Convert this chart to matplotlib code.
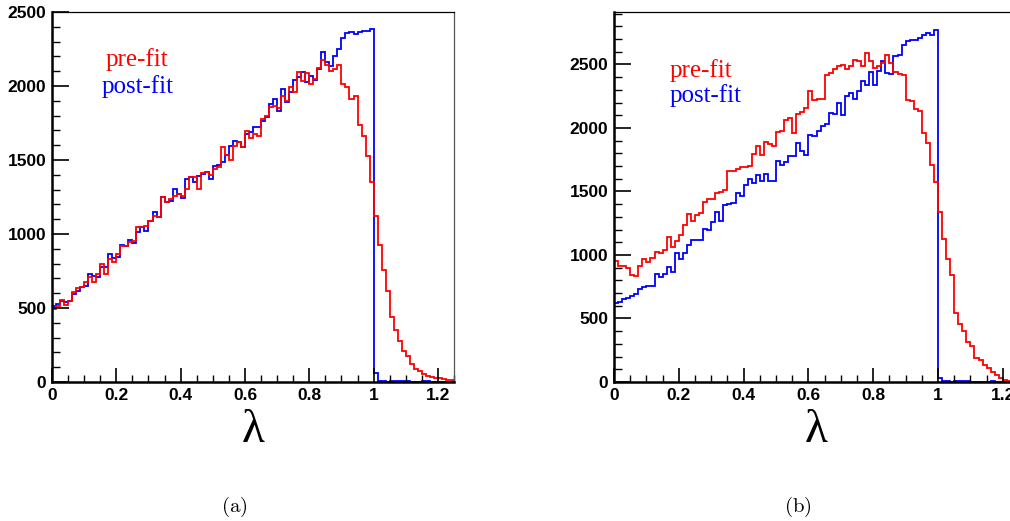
import matplotlib
matplotlib.use("Agg")
import matplotlib.pyplot as plt
import numpy as np
from matplotlib.ticker import MultipleLocator

# 100 bins over lambda in [0, 1.25]
edges = np.linspace(0, 1.25, 101)

# (a) left panel
pre_a = [493, 511, 554, 522, 550, 610, 633, 644, 673, 707,
         673, 730, 797, 730, 831, 809, 865, 921, 921, 944,
         955, 1045, 1045, 1056, 1090, 1124, 1113, 1248, 1214, 1237,
         1259, 1270, 1259, 1304, 1387, 1383, 1304, 1412, 1417, 1399,
         1439, 1450, 1586, 1534, 1502, 1597, 1619, 1586, 1698, 1649,
         1676, 1665, 1777, 1800, 1860, 1867, 1850, 1930, 1900, 1991,
         1957, 2092, 2036, 2088, 2013, 2047, 2120, 2176, 2142, 2104,
         2115, 2142, 2013, 1990, 1915, 1930, 1737, 1660, 1529, 1349,
         1124, 926, 759, 617, 437, 354, 275, 207, 173, 122,
         88, 77, 54, 43, 36, 29, 25, 20, 16, 14]
post_a = [511, 527, 550, 538, 550, 595, 617, 640, 651, 730,
          718, 707, 775, 775, 865, 836, 842, 928, 921, 962,
          939, 1011, 1045, 1018, 1090, 1146, 1113, 1248, 1219, 1225,
          1304, 1270, 1243, 1372, 1387, 1349, 1394, 1405, 1417, 1372,
          1462, 1466, 1484, 1534, 1597, 1631, 1624, 1586, 1676, 1687,
          1721, 1721, 1766, 1790, 1880, 1912, 1830, 1980, 1890, 1962,
          2040, 2060, 2092, 2025, 2070, 2040, 2115, 2227, 2164, 2137,
          2200, 2250, 2322, 2358, 2362, 2351, 2362, 2374, 2374, 2385,
          60, 10, 5, 3, 5, 8, 10, 8, 4, 3,
          2, 3, 5, 4, 3, 2, 2, 1, 1, 1]

# (b) right panel
pre_b = [950, 911, 916, 898, 845, 837, 911, 969, 942, 976,
         1024, 1016, 1042, 1142, 1063, 1108, 1160, 1239, 1323, 1265,
         1318, 1331, 1415, 1441, 1441, 1488, 1496, 1515, 1659, 1659,
         1677, 1693, 1693, 1698, 1796, 1856, 1790, 1887, 1877, 1861,
         1966, 1974, 2061, 2079, 1961, 2113, 2124, 2158, 2289, 2223,
         2229, 2229, 2420, 2433, 2465, 2486, 2499, 2465, 2491, 2533,
         2525, 2491, 2591, 2525, 2473, 2486, 2512, 2578, 2512, 2439,
         2428, 2420, 2218, 2210, 2150, 2131, 1961, 1882, 1706, 1572,
         1336, 1126, 969, 845, 543, 459, 399, 312, 281, 189,
         176, 137, 110, 76, 58, 32, 13, 5, 3, 2]
post_b = [622, 627, 654, 661, 675, 696, 732, 745, 753, 753,
          853, 827, 853, 906, 864, 1016, 969, 1016, 1082, 1121,
          1116, 1116, 1205, 1200, 1257, 1336, 1265, 1391, 1402, 1410,
          1488, 1462, 1549, 1599, 1567, 1633, 1580, 1641, 1580, 1580,
          1738, 1712, 1730, 1782, 1782, 1882, 1817, 1790, 1948, 1940,
          1974, 2013, 2034, 2118, 2113, 2197, 2105, 2250, 2276, 2229,
          2294, 2368, 2342, 2439, 2342, 2447, 2525, 2433, 2428, 2565,
          2578, 2657, 2683, 2690, 2696, 2709, 2735, 2748, 2735, 2775,
          31, 8, 4, 3, 5, 6, 5, 4, 3, 3,
          2, 2, 3, 4, 3, 2, 2, 1, 1, 1]

xticks = [0, 0.2, 0.4, 0.6, 0.8, 1.0, 1.2]
xticklabels = ["0", "0.2", "0.4", "0.6", "0.8", "1", "1.2"]
yticks = [0, 500, 1000, 1500, 2000, 2500]
yticklabels = ["0", "500", "1000", "1500", "2000", "2500"]

tickfont = dict(family="Liberation Sans", weight="bold", size=12.5)

fig = plt.figure(figsize=(10.10, 5.21), dpi=100)
ax_a = fig.add_axes([52/1010, 139/521, 402/1010, 370/521])
ax_b = fig.add_axes([614/1010, 139/521, 405/1010, 370/521])

panels = [(ax_a, pre_a, post_a, 2500),
          (ax_b, pre_b, post_b, 2913)]

for ax, pre, post, ymax in panels:
    ax.stairs(post, edges, color="#0000ff", lw=1.3, baseline=None)
    ax.stairs(pre, edges, color="#ff0000", lw=1.3, baseline=None)
    ax.set_xlim(0, 1.25)
    ax.set_ylim(0, ymax)
    ax.set_xticks(xticks)
    ax.set_xticklabels(xticklabels, fontdict=tickfont)
    ax.set_yticks(yticks)
    ax.set_yticklabels(yticklabels, fontdict=tickfont)
    ax.xaxis.set_minor_locator(MultipleLocator(0.05))
    ax.yaxis.set_minor_locator(MultipleLocator(100))
    ax.tick_params(direction="in", which="major", length=10, width=1.2, pad=4)
    ax.tick_params(direction="in", which="minor", length=5, width=1.0)
    ax.tick_params(axis="y", which="major", length=12)
    ax.tick_params(axis="y", which="minor", length=6)
    ax.spines["left"].set_linewidth(1.8)
    ax.spines["bottom"].set_linewidth(1.8)
    ax.spines["top"].set_linewidth(0.9)
    ax.spines["right"].set_linewidth(0.9)
    ax.spines["right"].set_color("#555555")
    ax.set_xlabel("λ", family="Liberation Serif", fontsize=34, labelpad=5)

legfont = dict(family="Liberation Serif", fontsize=18)
fig.text(106/1010, 1 - 66/521, "pre-fit", color="#ff0000", **legfont)
fig.text(102/1010, 1 - 93/521, "post-fit", color="#0000ff", **legfont)
fig.text(670/1010, 1 - 77/521, "pre-fit", color="#ff0000", **legfont)
fig.text(670/1010, 1 - 102/521, "post-fit", color="#0000ff", **legfont)

plt.rcParams["mathtext.fontset"] = "cm"
fig.text(234/1010, 1 - 512/521, r"$\mathrm{(a)}$", fontsize=15, ha="center")
fig.text(798/1010, 1 - 512/521, r"$\mathrm{(b)}$", fontsize=15, ha="center")

fig.savefig("out.png", dpi=100)
